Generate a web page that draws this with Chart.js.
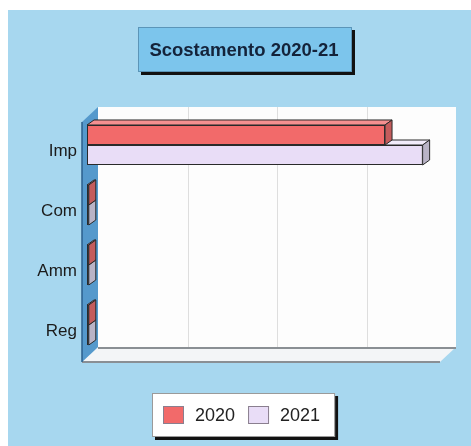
<!doctype html>
<html lang="it">
<head>
<meta charset="utf-8">
<title>Scostamento 2020-21</title>
<script src="https://cdn.jsdelivr.net/npm/chart.js@4.4.0/dist/chart.umd.min.js"></script>
<style>
  html, body { margin: 0; padding: 0; background: #fff; }
  canvas { display: block; }
</style>
</head>
<body>
<canvas id="chart" width="471" height="446"></canvas>
<script>
'use strict';

// chart data
const TITLE = 'Scostamento 2020-21';
const CATEGORIES = ['Imp', 'Com', 'Amm', 'Reg'];
const SERIES_LABELS = ['2020', '2021'];
const VALUES_2020 = [333, 2, 2, 2];
const VALUES_2021 = [375, 2, 2, 2];
const X_MAX = 400;
const X_STEP = 100;

// look
const FONT = 'Arial, "Liberation Sans", sans-serif';
const BG = '#a7d7ef';
const FILL = ['#f26a6a', '#e9ddf7'];
const SIDE = ['#c45c5c', '#b9b3c6'];
const TOP  = ['#f59090', '#f2ecfb'];
const BAR_D  = { dx: 7,  dy: -5 };   // depth of each bar
const BACK   = { dx: 11, dy: -8 };   // back wall relative to bar plane
const WALL_D = { dx: 16, dy: -15 };  // thickness of side wall / floor

function poly(ctx, pts, fill, stroke, lw) {
  ctx.beginPath();
  ctx.moveTo(pts[0][0], pts[0][1]);
  for (let i = 1; i < pts.length; i++) ctx.lineTo(pts[i][0], pts[i][1]);
  ctx.closePath();
  if (fill) { ctx.fillStyle = fill; ctx.fill(); }
  if (stroke) { ctx.strokeStyle = stroke; ctx.lineWidth = lw || 1; ctx.stroke(); }
}

const frame = {
  id: 'frame',
  beforeDraw(chart) {
    const ctx = chart.ctx;
    ctx.save();
    ctx.fillStyle = '#fff';
    ctx.fillRect(0, 0, chart.width, chart.height);
    ctx.fillStyle = BG;
    ctx.fillRect(8, 10, chart.width - 8, chart.height - 10);

    // title box
    const bx = 138, by = 27, bw = 214, bh = 45;
    ctx.fillStyle = '#111';
    ctx.fillRect(bx + 3, by + 3, bw, bh);
    ctx.fillStyle = '#7cc5ec';
    ctx.fillRect(bx, by, bw, bh);
    ctx.strokeStyle = '#5b95b8';
    ctx.lineWidth = 1;
    ctx.strokeRect(bx + 0.5, by + 0.5, bw - 1, bh - 1);
    ctx.fillStyle = '#14233a';
    ctx.font = 'bold 18.5px ' + FONT;
    ctx.textAlign = 'center';
    ctx.textBaseline = 'middle';
    ctx.fillText(TITLE, bx + bw / 2 - 1, by + bh / 2 + 1);
    ctx.restore();
  },
  beforeDatasetsDraw(chart) {
    const ctx = chart.ctx;
    const a = chart.chartArea;
    const L = a.left + BACK.dx, R = a.right + BACK.dx;
    const T = a.top + BACK.dy,  B = a.bottom + BACK.dy;
    ctx.save();
    // back wall
    ctx.fillStyle = '#fdfdfd';
    ctx.fillRect(L, T, R - L, B - T);
    // grid lines on the back wall
    const xs = chart.scales.x;
    ctx.strokeStyle = '#dedede';
    ctx.lineWidth = 1;
    xs.ticks.forEach(t => {
      if (t.value <= 0 || t.value >= X_MAX) return;
      const x = Math.round(xs.getPixelForValue(t.value) + BACK.dx) + 0.5;
      ctx.beginPath();
      ctx.moveTo(x, T);
      ctx.lineTo(x, B);
      ctx.stroke();
    });
    // floor
    poly(ctx, [[L, B], [R, B], [R - WALL_D.dx, B - WALL_D.dy], [L - WALL_D.dx, B - WALL_D.dy]], '#f3f5f7');
    ctx.strokeStyle = '#8a8f94';
    ctx.lineWidth = 2;
    ctx.beginPath(); ctx.moveTo(L, B + 1); ctx.lineTo(R, B + 1); ctx.stroke();
    ctx.beginPath(); ctx.moveTo(L - WALL_D.dx, B - WALL_D.dy); ctx.lineTo(R - WALL_D.dx, B - WALL_D.dy); ctx.stroke();
    // left wall
    poly(ctx, [[L, T], [L, B], [L - WALL_D.dx, B - WALL_D.dy], [L - WALL_D.dx, T - WALL_D.dy]], '#5599cc');
    ctx.strokeStyle = '#2b5f8c';
    ctx.lineWidth = 1.5;
    ctx.beginPath();
    ctx.moveTo(L - WALL_D.dx, T - WALL_D.dy);
    ctx.lineTo(L - WALL_D.dx, B - WALL_D.dy);
    ctx.stroke();
    ctx.restore();
  },
  // top and right faces of each bar, drawn right after its dataset
  afterDatasetDraw(chart, args) {
    const ctx = chart.ctx;
    const i = args.index;
    ctx.save();
    ctx.lineJoin = 'round';
    args.meta.data.forEach(bar => {
      const p = bar.getProps(['x', 'y', 'base', 'height'], true);
      const top = p.y - p.height / 2, bot = p.y + p.height / 2;
      const x0 = p.base, x1 = p.x;
      poly(ctx, [[x0, top], [x1, top], [x1 + BAR_D.dx, top + BAR_D.dy], [x0 + BAR_D.dx, top + BAR_D.dy]], TOP[i], '#2a2a2a', 1);
      poly(ctx, [[x1, top], [x1, bot], [x1 + BAR_D.dx, bot + BAR_D.dy], [x1 + BAR_D.dx, top + BAR_D.dy]], SIDE[i], '#2a2a2a', 1);
    });
    ctx.restore();
  },
  afterDraw(chart) {
    const ctx = chart.ctx;
    ctx.save();
    ctx.font = '18px ' + FONT;
    ctx.textBaseline = 'middle';
    ctx.textAlign = 'left';
    const sw = 21, sh = 18, gap = 11, pad = 11;
    const items = chart.data.datasets.map(d => ({ label: d.label, color: d.backgroundColor }));
    let w = pad;
    items.forEach((it, k) => {
      w += sw + gap + ctx.measureText(it.label).width + (k < items.length - 1 ? 13 : pad + 4);
    });
    const bx = 152, by = 393, bh = 44;
    ctx.fillStyle = '#111';
    ctx.fillRect(bx + 3, by + 3, w, bh);
    ctx.fillStyle = '#fff';
    ctx.fillRect(bx, by, w, bh);
    ctx.strokeStyle = '#9a9a9a';
    ctx.lineWidth = 1;
    ctx.strokeRect(bx + 0.5, by + 0.5, w - 1, bh - 1);
    let x = bx + pad;
    const cy = by + bh / 2;
    items.forEach(it => {
      ctx.fillStyle = it.color;
      ctx.fillRect(x, cy - sh / 2, sw, sh);
      ctx.strokeStyle = '#8a7f8f';
      ctx.strokeRect(x + 0.5, cy - sh / 2 + 0.5, sw - 1, sh - 1);
      x += sw + gap;
      ctx.fillStyle = '#222';
      ctx.fillText(it.label, x, cy + 1);
      x += ctx.measureText(it.label).width + 13;
    });
    ctx.restore();
  }
};

new Chart(document.getElementById('chart'), {
  type: 'bar',
  data: {
    labels: CATEGORIES,
    datasets: [
      { label: SERIES_LABELS[0], data: VALUES_2020, backgroundColor: FILL[0] },
      { label: SERIES_LABELS[1], data: VALUES_2021, backgroundColor: FILL[1] },
    ]
  },
  options: {
    indexAxis: 'y',
    responsive: false,
    animation: false,
    layout: { padding: { top: 115, right: 26, bottom: 91, left: 0 } },
    datasets: {
      bar: {
        borderColor: '#2a2a2a',
        borderWidth: 1,
        borderSkipped: false,
        categoryPercentage: 0.667,
        barPercentage: 1,
      }
    },
    plugins: {
      legend: { display: false },
      title: { display: false },
      tooltip: { enabled: false }
    },
    scales: {
      x: {
        display: false,
        min: 0,
        max: X_MAX,
        ticks: { stepSize: X_STEP }
      },
      y: {
        afterFit(scale) { scale.width = 87; },
        border: { display: false },
        grid: { display: false, drawTicks: false },
        ticks: {
          padding: 10,
          labelOffset: 6,
          color: '#1b1b1b',
          font: { family: FONT, size: 17 }
        }
      }
    }
  },
  plugins: [frame]
});
</script>
</body>
</html>
